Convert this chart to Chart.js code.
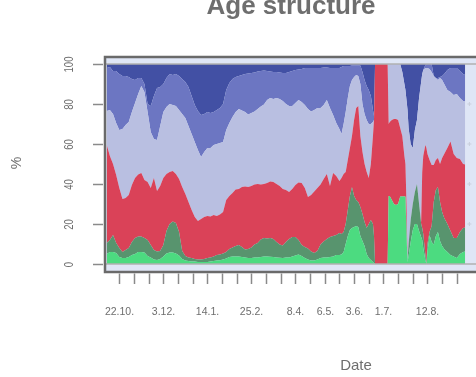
<!DOCTYPE html>
<html>
<head>
<meta charset="utf-8">
<script src="https://cdn.jsdelivr.net/npm/chart.js@4.4.1/dist/chart.umd.min.js"></script>
<style>
  html, body { margin: 0; padding: 0; background: #fff; overflow: hidden; }
  #wrap { position: relative; width: 520px; height: 377px; }
</style>
</head>
<body>
<div id="wrap"><canvas id="ageChart"></canvas></div>
<script>
// day offsets counted from 22 October
const days = [-12, -9, -6, -3, 0, 3, 6, 9, 12, 15, 18, 21, 24, 27, 30, 33, 36, 39, 42, 45,
  48, 51, 54, 57, 60, 63, 66, 69, 72, 75, 78, 81, 84, 87, 90, 93, 96, 99, 102, 105,
  108, 111, 114, 117, 120, 123, 126, 129, 132, 135, 138, 141, 144, 147, 150, 153, 156, 159, 162, 165,
  168, 171, 174, 177, 180, 183, 186, 189, 192, 195, 198, 201, 204, 207, 210, 212, 214, 216, 218, 220,
  222, 224, 226, 228, 230, 232, 234, 236, 238, 240, 242, 243, 244, 256, 257, 258, 260, 262, 264, 266,
  268, 270, 272, 273, 274, 275, 276, 278, 280, 282, 284, 286, 288, 289, 290, 292, 293, 294, 296, 298,
  300, 302, 304, 306, 308, 310, 313, 316, 319, 322, 325, 328, 330];

// cumulative share (%) up to and including each age band
const cum1 = [5, 6, 6, 5.5, 3.5, 3, 3, 3.5, 4.5, 5, 6, 6, 5.8, 4, 3.3, 2.3, 2, 2.5, 3.8, 5.3,
  5.8, 5.8, 5.3, 4.2, 2.5, 1.8, 1.5, 1.3, 1.2, 1, 1, 1, 1, 1.3, 1.5, 1.7, 1.9, 2.2, 2.8, 3.5,
  3.7, 3.8, 3.8, 3.5, 3.2, 3, 3, 3.2, 3.3, 3.5, 3.8, 3.7, 3.6, 3.5, 3.3, 3.1, 3, 3.3, 3.3, 3.8,
  4.2, 4.7, 4, 3, 2.2, 1.7, 1.7, 2.2, 3, 3.2, 3.3, 3.5, 3.8, 4.5, 4.5, 4.8, 6, 10, 14, 17,
  18, 18.5, 19, 18.5, 14, 11.5, 9, 5, 3, 2, 1, 0.5, 0, 0, 34, 34, 32, 30, 29.5, 30,
  33.8, 33.8, 33.8, 33.8, 15, 1, 4, 11, 17, 20, 20, 16.5, 13.5, 12, 8, 2, 0, 6, 14.5, 11,
  9.7, 14, 16, 11.5, 9, 7.5, 6, 4.5, 3.8, 3, 5, 6, 6.3];

const cum2 = [10.5, 12, 14.5, 10.5, 8, 6, 7, 8, 11, 13, 13.8, 13.8, 13, 12, 9.5, 7, 6.3, 6.5, 9.5, 16.5,
  20, 21.3, 20.5, 16, 6.5, 4, 3.2, 3, 2.5, 2.2, 2.2, 2.5, 3, 3.2, 3.8, 4.5, 4.8, 5.3, 6, 7.5,
  8.3, 9, 9.5, 8.5, 7.2, 7.5, 8.3, 9.7, 10.5, 12.2, 13, 12.7, 13, 12.5, 11, 9.8, 9.3, 11, 12.5, 13.5,
  13.5, 12, 9.5, 8.5, 7.7, 6.2, 5.5, 6.5, 9.7, 11.3, 12.5, 13.5, 14, 14.5, 15.5, 15, 16, 20, 27, 34,
  38.5, 34, 32, 31, 28.5, 25, 21, 18, 20, 22, 20, 14, 0, 0, 34, 34, 32, 30, 29.5, 30,
  33.8, 33.8, 33.8, 33.8, 18, 2, 10, 22, 30, 36, 40, 30, 20, 18, 15, 5, 0, 10, 16, 19,
  31, 37, 38.5, 31, 26, 23, 20, 16.5, 13, 13, 16, 18, 18.3];

const cum3 = [59.5, 54, 50, 44.5, 38, 32.5, 33, 34.5, 39.5, 43, 44.7, 45.5, 42, 41, 38, 43, 36.5, 39, 43, 45,
  46, 46.5, 45, 42.5, 38.5, 35, 31, 27, 23.5, 21.5, 22.5, 23.5, 24, 23.8, 24.5, 24, 24.7, 26, 32, 34,
  35.5, 37.2, 37.5, 38.5, 38.8, 38.5, 39, 39.7, 40, 39.7, 40, 40.5, 41.3, 41, 40, 39, 37.5, 37, 36, 37.5,
  39.5, 40.8, 40.5, 38, 33.5, 34.5, 36.3, 38, 39.7, 42.5, 45, 39, 45.5, 44, 41.5, 43, 45, 46, 52, 58,
  64, 72, 78, 79, 64, 56, 50, 46, 43, 50, 64, 72, 100, 100, 70, 71, 72, 72.5, 72.5, 72,
  68, 64, 54, 50, 30, 2, 10, 22, 30, 36, 40, 30, 21, 46, 54, 59.5, 58, 55, 52, 49.5,
  49.5, 52, 53, 50, 53, 55, 58, 61.3, 55, 53, 52.5, 50, 49.7];

const cum4 = [76.5, 77, 75, 70.5, 67, 67.5, 69.5, 71, 76, 80.5, 85, 89, 86, 76, 66, 62.5, 62, 69, 76, 78.5,
  80, 79.5, 79, 77, 75, 73, 69, 65, 61, 57, 53.5, 56, 58, 58, 59.5, 60, 60.5, 61, 67, 70.5,
  73.5, 76, 77.5, 76.8, 76, 74.7, 75.5, 76.3, 77.5, 78.8, 79.7, 82, 83, 82.5, 83, 82.5, 81.5, 80, 79, 79,
  80.5, 82, 81, 79.5, 77.5, 76.3, 77, 78, 78, 79.5, 82, 78, 74.5, 70.5, 67.5, 65, 70, 76, 83, 89,
  92, 93.5, 94.5, 94, 90, 80, 75, 72, 70, 70, 71, 72, 100, 100, 100, 100, 100, 100, 100, 100,
  100, 96, 90, 87, 82, 77, 68, 60, 58, 67, 72, 83, 91, 95, 97, 98, 98, 98, 97.5, 96,
  94, 93, 92, 93, 92, 90, 87, 86, 84.5, 85, 83, 81.5, 81.3];

const cum5 = [98, 98.5, 96.5, 96.5, 95, 94, 94, 93.5, 92.5, 92, 93, 93, 90, 80, 79, 84, 88, 88.5, 90, 93,
  95, 94.5, 95, 94, 92.5, 91, 88.5, 84, 79.5, 76.5, 74.5, 75, 76, 75.5, 76, 77, 78, 80, 87, 90.5,
  92.5, 93.5, 94, 94.5, 95, 95.3, 95.5, 95.8, 96.3, 96.5, 96.7, 96.5, 96.3, 96, 96, 95.8, 95.5, 95.5, 96, 96.5,
  97, 97.2, 97.5, 98, 98, 98, 98, 98, 98, 98.2, 98.2, 98, 98, 98, 98, 98.5, 99, 99, 99, 99,
  99.2, 99.2, 99.2, 99.2, 99.2, 96, 92, 89, 87, 84, 77, 74, 100, 100, 100, 100, 100, 100, 100, 100,
  100, 96, 90, 87, 82, 77, 68, 60, 58, 67, 72, 83, 91, 95, 97, 99.5, 100, 100, 100, 100,
  94, 93, 93, 93.5, 94, 95, 97, 98, 98, 98, 96.5, 95, 94.5];

const tickDays = [0, 14, 28, 42, 56, 70, 84, 98, 112, 126, 140, 154, 168, 182, 196, 210,
  224, 238, 252, 266, 280, 294, 308, 322];
const tickLabels = ['22.10.', '', '', '3.12.', '', '', '14.1.', '', '', '25.2.', '', '',
  '8.4.', '', '6.5.', '', '3.6.', '', '1.7.', '', '', '12.8.', '', ''];
const yTicks = [0, 20, 40, 60, 80, 100];

const bandColors = ['#4cdb80', '#58946e', '#da4258', '#b9bfe1', '#6c76c2', '#4250a4'];

function pts(arr) {
  return arr.map((v, i) => ({ x: days[i], y: v }));
}

function band(arr, color, fill) {
  return {
    data: pts(arr),
    backgroundColor: color,
    borderWidth: 0,
    pointRadius: 0,
    tension: 0,
    fill: fill
  };
}

const textGrey = '#6e6e6e';

const frame = {
  id: 'frame',
  beforeDraw(chart) {
    const { ctx, chartArea: a } = chart;
    ctx.save();
    ctx.fillStyle = '#dfe6f6';
    ctx.fillRect(a.left, a.top, a.right - a.left, a.bottom - a.top);
    ctx.restore();
  },
  afterDatasetsDraw(chart) {
    const { ctx, chartArea: a, scales: { x, y } } = chart;
    ctx.save();

    // reference lines at 0 % and 100 %
    ctx.strokeStyle = '#b0b0b0';
    ctx.lineWidth = 1.5;
    [0, 100].forEach(v => {
      const py = y.getPixelForValue(v);
      ctx.beginPath();
      ctx.moveTo(a.left, py);
      ctx.lineTo(a.right, py);
      ctx.stroke();
    });

    // faint crosses right of the data
    ctx.strokeStyle = '#c9cfdc';
    ctx.lineWidth = 1;
    [20, 40, 60, 80].forEach(v => {
      const px = x.getPixelForValue(334), py = y.getPixelForValue(v);
      ctx.beginPath();
      ctx.moveTo(px - 2, py); ctx.lineTo(px + 2, py);
      ctx.moveTo(px, py - 2); ctx.lineTo(px, py + 2);
      ctx.stroke();
    });

    // box
    ctx.strokeStyle = '#6a6a6a';
    ctx.lineWidth = 2.5;
    ctx.strokeRect(a.left, a.top, a.right - a.left, a.bottom - a.top);

    // x ticks and labels
    ctx.strokeStyle = '#8a8a8a';
    ctx.lineWidth = 1.5;
    ctx.fillStyle = textGrey;
    ctx.font = '10.5px "Liberation Sans", Arial, sans-serif';
    ctx.textAlign = 'center';
    ctx.textBaseline = 'middle';
    tickDays.forEach((d, i) => {
      const px = Math.round(x.getPixelForValue(d)) + 0.5;
      ctx.beginPath();
      ctx.moveTo(px, a.bottom + 1.5);
      ctx.lineTo(px, a.bottom + 12);
      ctx.stroke();
      if (tickLabels[i]) ctx.fillText(tickLabels[i], px, 312);
    });

    // y ticks and rotated labels
    yTicks.forEach(v => {
      const py = Math.round(y.getPixelForValue(v)) + 0.5;
      ctx.beginPath();
      ctx.moveTo(a.left - 12, py);
      ctx.lineTo(a.left - 2, py);
      ctx.stroke();
      ctx.save();
      ctx.translate(70, py);
      ctx.rotate(-Math.PI / 2);
      ctx.scale(0.8, 1);
      ctx.font = '12px "Liberation Sans", Arial, sans-serif';
      ctx.fillText(String(v), 0, 0);
      ctx.restore();
    });

    // axis titles and main title
    ctx.save();
    ctx.translate(17, 163);
    ctx.rotate(-Math.PI / 2);
    ctx.font = '14px "Liberation Sans", Arial, sans-serif';
    ctx.fillText('%', 0, 0);
    ctx.restore();

    ctx.font = '15px "Liberation Sans", Arial, sans-serif';
    ctx.fillText('Date', 356, 366);

    ctx.font = 'bold 26px "Liberation Sans", Arial, sans-serif';
    ctx.textBaseline = 'alphabetic';
    ctx.fillText('Age structure', 291, 14);

    ctx.restore();
  }
};

new Chart(document.getElementById('ageChart'), {
  type: 'line',
  data: {
    datasets: [
      band(cum1, bandColors[0], { value: 0 }),
      band(cum2, bandColors[1], '-1'),
      band(cum3, bandColors[2], '-1'),
      band(cum4, bandColors[3], '-1'),
      band(cum5, bandColors[4], '-1'),
      band(cum5, bandColors[5], { value: 100 })
    ]
  },
  options: {
    responsive: true,
    maintainAspectRatio: false,
    animation: false,
    layout: { padding: { left: 105, top: 57, right: 0, bottom: 105 } },
    plugins: { legend: { display: false }, tooltip: { enabled: false }, title: { display: false } },
    scales: {
      x: { type: 'linear', min: -13.65, max: 382.3, display: false },
      y: { min: -4, max: 103.5, display: false }
    }
  },
  plugins: [frame]
});
</script>
</body>
</html>
